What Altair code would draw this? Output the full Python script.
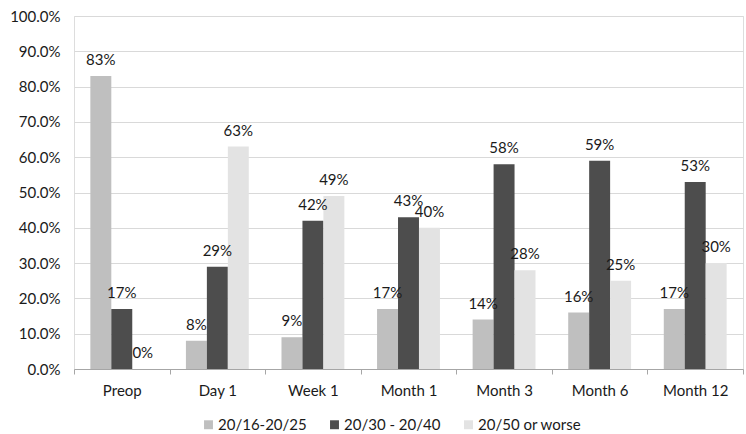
import altair as alt
import pandas as pd

# Visual acuity distribution at each follow-up visit
visits = ["Preop", "Day 1", "Week 1", "Month 1", "Month 3", "Month 6", "Month 12"]
groups = ["20/16-20/25", "20/30 - 20/40", "20/50 or worse"]
acuity_good = [83, 8, 9, 17, 14, 16, 17]
acuity_mid = [17, 29, 42, 43, 58, 59, 53]
acuity_poor = [0, 63, 49, 40, 28, 25, 30]
colors = ["#bfbfbf", "#4d4d4d", "#e3e3e3"]

rows = []
for series, vals in zip(groups, [acuity_good, acuity_mid, acuity_poor]):
    for visit, v in zip(visits, vals):
        rows.append({"visit": visit, "group": series, "value": v / 100,
                     "label": f"{v}%"})
df = pd.DataFrame(rows)

FONT = "Lato"
FS = 15
INK = "#1a1a1a"

x = alt.X("visit:N", sort=visits, title=None,
          scale=alt.Scale(paddingInner=0, paddingOuter=0),
          axis=alt.Axis(labelAngle=0, tickBand="extent", tickSize=5,
                        domainColor="#a6a6a6", tickColor="#a6a6a6",
                        labelPadding=9, labelFontSize=FS, labelColor=INK,
                        labelFont=FONT, grid=False))
xo = alt.XOffset("group:N", sort=groups,
                 scale=alt.Scale(paddingInner=0, paddingOuter=0.78))
y = alt.Y("value:Q", title=None,
          scale=alt.Scale(domain=[0, 1], nice=False),
          axis=alt.Axis(format=".1%", values=[i / 10 for i in range(11)],
                        labelOverlap=False, domain=False, ticks=False,
                        gridColor="#d9d9d9", labelPadding=14,
                        labelFontSize=FS, labelColor=INK, labelFont=FONT))

bars = alt.Chart(df).mark_bar().encode(
    x=x,
    xOffset=xo,
    y=y,
    color=alt.Color("group:N", sort=groups,
                    scale=alt.Scale(domain=groups, range=colors),
                    legend=alt.Legend(title=None, orient="none", direction="horizontal",
                                      legendX=127, legendY=401, padding=0,
                                      symbolType="square",
                                      symbolSize=80, symbolStrokeWidth=0,
                                      labelFontSize=FS, labelFont=FONT,
                                      labelColor=INK, columnPadding=20,
                                      labelOffset=2)),
)

labels = alt.Chart(df).mark_text(baseline="bottom", dy=-8, fontSize=FS,
                                 font=FONT, color=INK).encode(
    x=x,
    xOffset=xo,
    y=y,
    text="label:N",
)

chart = (bars + labels).properties(
    width=669, height=353,
    autosize=alt.AutoSizeParams(type="none"),
    padding={"left": 74, "top": 16, "right": 3, "bottom": 65},
).configure_view(stroke=None).configure(background="white")

chart.save("out.html", embed_options={"renderer": "svg", "actions": False})
